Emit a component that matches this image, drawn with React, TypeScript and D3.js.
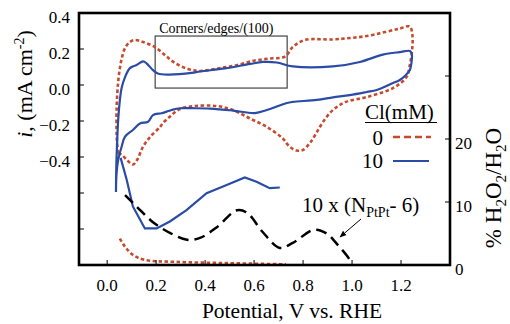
import React from 'react';
import * as d3 from 'd3';

// tick values
const xTicks = [0, 0.2, 0.4, 0.6, 0.8, 1.0, 1.2];
const leftTicks = [0.2, 0, -0.2, -0.4, -0.6, -0.8];
const leftLabels = [0.4, 0.2, 0, -0.2, -0.4];
const rightTicks = [10, 20, 30];
const rightLabels = [0, 10, 20];

// CV, 0 mM Cl  [V, mA cm-2]
const cv0 = [
  [0.044,-0.378],[0.039,-0.283],[0.039,-0.111],[0.045,0.017],[0.052,0.094],[0.060,0.150],[0.073,0.206],
  [0.093,0.239],[0.113,0.250],[0.146,0.239],[0.195,0.211],[0.240,0.161],[0.277,0.122],[0.330,0.089],
  [0.379,0.078],[0.452,0.092],[0.522,0.108],[0.603,0.136],[0.664,0.147],[0.726,0.158],[0.758,0.211],
  [0.807,0.250],[0.922,0.253],[0.991,0.261],[1.060,0.272],[1.134,0.294],[1.195,0.314],[1.236,0.325],
  [1.246,0.283],[1.246,0.206],[1.236,0.111],[1.222,0.044],[1.167,-0.017],[1.060,-0.067],[0.975,-0.094],
  [0.922,-0.139],[0.881,-0.206],[0.852,-0.272],[0.828,-0.322],[0.799,-0.361],[0.774,-0.364],[0.746,-0.344],
  [0.717,-0.297],[0.652,-0.233],[0.583,-0.186],[0.514,-0.139],[0.449,-0.117],[0.358,-0.117],[0.297,-0.133],
  [0.256,-0.176],[0.228,-0.211],[0.216,-0.233],[0.175,-0.289],[0.146,-0.344],[0.122,-0.417],[0.105,-0.442],
  [0.081,-0.417],[0.060,-0.389],[0.044,-0.378]
];

// CV, 10 mM Cl
const cv10 = [
  [0.036,-0.594],[0.037,-0.472],[0.039,-0.378],[0.045,-0.194],[0.052,-0.083],[0.059,-0.017],[0.073,0.044],
  [0.093,0.094],[0.120,0.111],[0.147,0.131],[0.162,0.119],[0.187,0.083],[0.207,0.064],[0.249,0.058],
  [0.345,0.067],[0.379,0.075],[0.481,0.092],[0.583,0.117],[0.636,0.128],[0.692,0.125],[0.758,0.103],
  [0.922,0.103],[1.032,0.128],[1.126,0.169],[1.195,0.183],[1.236,0.189],[1.244,0.172],[1.244,0.139],
  [1.236,0.083],[1.220,0.056],[1.195,0.028],[1.167,0.011],[1.101,-0.028],[1.060,-0.039],[0.991,-0.056],
  [0.922,-0.069],[0.856,-0.083],[0.758,-0.094],[0.734,-0.100],[0.652,-0.139],[0.603,-0.156],[0.514,-0.142],
  [0.420,-0.131],[0.345,-0.129],[0.297,-0.129],[0.263,-0.139],[0.243,-0.148],[0.222,-0.157],[0.187,-0.167],
  [0.167,-0.204],[0.134,-0.214],[0.105,-0.250],[0.073,-0.287],[0.059,-0.343],[0.045,-0.417],[0.038,-0.500],
  [0.036,-0.594]
];

// % H2O2 / H2O  [V, %]
const h2o2_0 = [[0.052,4.2],[0.073,2.9],[0.105,1.6],[0.154,0.8],[0.277,0.5],[0.49,0.3],[0.73,0.1]];
const h2o2_10 = [
  [0.055,17.0],[0.080,13.5],[0.105,9.3],[0.154,5.8],[0.202,5.8],[0.256,6.9],[0.324,8.7],
  [0.406,11.4],[0.488,12.7],[0.562,13.9],[0.610,13.2],[0.664,12.2],[0.705,12.3]
];

// 10 x (N_PtPt - 6)
const nPtPt = [
  [0.073,11.1],[0.122,9.2],[0.187,6.8],[0.256,5.1],[0.326,4.0],[0.379,4.3],[0.448,6.0],[0.530,8.7],
  [0.571,8.3],[0.636,5.2],[0.705,2.7],[0.758,3.5],[0.845,5.6],[0.896,5.0],[0.937,3.4],[0.991,0.8],[0.998,0.1]
];

const W = 510, H = 324;
const fr = { left: 79, right: 450, top: 13, bottom: 265 };
const RED = '#c64b2e';
const BLUE = '#2a4ba6';
const font = "'Liberation Serif', 'Times New Roman', Times, serif";

export default function App() {
  const x = d3.scaleLinear().domain([-0.115, 1.4]).range([fr.left, fr.right]);
  const yL = d3.scaleLinear().domain([-1.0, 0.4]).range([fr.bottom, fr.top]);
  const yR = d3.scaleLinear().domain([0, 40]).range([fr.bottom, fr.top]);

  const smooth = d3.curveCatmullRom.alpha(0.5);
  const cvLine = d3.line<number[]>().x(d => x(d[0])).y(d => yL(d[1])).curve(smooth);
  const rLine = d3.line<number[]>().x(d => x(d[0])).y(d => yR(d[1])).curve(smooth);
  const rLineLin = d3.line<number[]>().x(d => x(d[0])).y(d => yR(d[1]));
  const fmt = d3.format('.1f');

  return (
    <svg width={W} height={H} style={{ position: 'absolute', left: 0, top: 0, background: '#fff', fontFamily: font }}>
      <defs>
        <marker id="ah" viewBox="0 0 10 10" refX="9" refY="5" markerWidth="7" markerHeight="7" orient="auto">
          <path d="M0,1 L10,5 L0,9 z" fill="#000" />
        </marker>
      </defs>

      {/* corners/edges box */}
      <rect x={x(0.196)} y={yL(0.272)} width={x(0.735) - x(0.196)} height={yL(-0.017) - yL(0.272)}
        fill="none" stroke="#444" strokeWidth={1.2} />
      <text x={x(0.196) + 4} y={yL(0.272) - 3} fontSize={14}>Corners/edges/(100)</text>

      {/* CVs */}
      <path d={cvLine(cv0) || ''} fill="none" stroke={RED} strokeWidth={2.6} strokeDasharray="3.5 2.5" />
      <path d={cvLine(cv10) || ''} fill="none" stroke={BLUE} strokeWidth={2.2} />

      {/* peroxide yields */}
      <path d={rLine(h2o2_0) || ''} fill="none" stroke={RED} strokeWidth={2.6} strokeDasharray="3.5 2.5" />
      <path d={rLineLin(h2o2_10) || ''} fill="none" stroke={BLUE} strokeWidth={2.2} />
      <path d={rLine(nPtPt) || ''} fill="none" stroke="#000" strokeWidth={2.5} strokeDasharray="11 6" />

      {/* frame */}
      <rect x={fr.left} y={fr.top} width={fr.right - fr.left} height={fr.bottom - fr.top}
        fill="none" stroke="#000" strokeWidth={2.6} />

      {/* bottom axis */}
      {xTicks.map(t => (
        <g key={'x' + t}>
          <line x1={x(t)} x2={x(t)} y1={fr.bottom} y2={fr.bottom - 5} stroke="#000" strokeWidth={1} />
          <text x={x(t)} y={291} fontSize={17} textAnchor="middle">{fmt(t)}</text>
        </g>
      ))}
      <text x={292} y={318} fontSize={21.5} textAnchor="middle">Potential, V vs. RHE</text>

      {/* left axis */}
      {leftTicks.map(t => (
        <line key={'l' + t} x1={fr.left} x2={fr.left + 5} y1={yL(t)} y2={yL(t)} stroke="#000" strokeWidth={1} />
      ))}
      {leftLabels.map(t => (
        <text key={'ll' + t} x={70} y={yL(t) + 10} fontSize={17} textAnchor="end">{fmt(t)}</text>
      ))}
      <text transform="translate(32,84) rotate(-90)" fontSize={22} textAnchor="middle">
        <tspan fontStyle="italic">i</tspan>, (mA cm<tspan fontSize={14} dy={-8}>-2</tspan><tspan dy={8}>)</tspan>
      </text>

      {/* right axis */}
      {rightTicks.map(t => (
        <line key={'r' + t} x1={fr.right} x2={fr.right - 5} y1={yR(t)} y2={yR(t)} stroke="#000" strokeWidth={1} />
      ))}
      {rightLabels.map(t => (
        <text key={'rl' + t} x={455} y={yR(t) + 10} fontSize={17}>{t}</text>
      ))}
      <text transform="translate(501,188) rotate(-90)" fontSize={23} textAnchor="middle">
        % H<tspan fontSize={15} dy={5}>2</tspan><tspan dy={-5}>O</tspan><tspan fontSize={15} dy={5}>2</tspan>
        <tspan dy={-5}>/H</tspan><tspan fontSize={15} dy={5}>2</tspan><tspan dy={-5}>O</tspan>
      </text>

      {/* legend */}
      <text x={365} y={119} fontSize={21}>Cl(mM)</text>
      <line x1={365} x2={437} y1={122.5} y2={122.5} stroke="#000" strokeWidth={1.2} />
      <text x={383} y={145} fontSize={21} textAnchor="end">0</text>
      <line x1={393} x2={431} y1={137} y2={137} stroke={RED} strokeWidth={2.6} strokeDasharray="7 4" />
      <text x={383} y={168} fontSize={21} textAnchor="end">10</text>
      <line x1={393} x2={429} y1={161} y2={161} stroke={BLUE} strokeWidth={2.2} />

      {/* N_PtPt annotation */}
      <text x={302} y={212} fontSize={21}>
        10 x (N<tspan fontSize={14} dy={5}>PtPt</tspan><tspan dy={-5}>- 6)</tspan>
      </text>
      <line x1={361} x2={340} y1={219} y2={237} stroke="#000" strokeWidth={1} markerEnd="url(#ah)" />
    </svg>
  );
}
